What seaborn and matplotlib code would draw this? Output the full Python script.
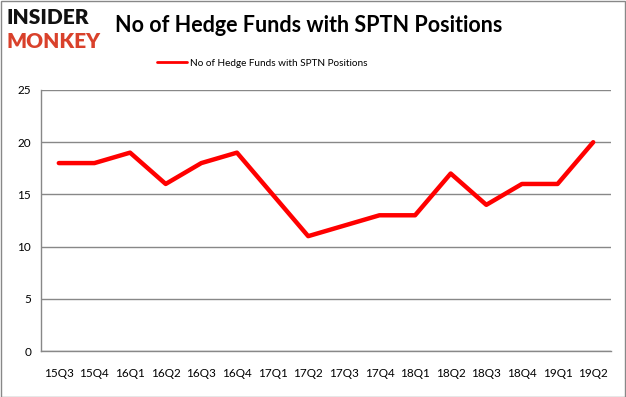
import matplotlib
matplotlib.use("Agg")
import matplotlib.pyplot as plt
import seaborn as sns
import pandas as pd
from matplotlib.patches import Rectangle

quarters = ["15Q3", "15Q4", "16Q1", "16Q2", "16Q3", "16Q4", "17Q1", "17Q2",
            "17Q3", "17Q4", "18Q1", "18Q2", "18Q3", "18Q4", "19Q1", "19Q2"]
funds = [18, 18, 19, 16, 18, 19, 15, 11, 12, 13, 13, 17, 14, 16, 16, 20]
series_name = "No of Hedge Funds with SPTN Positions"
yticks = [0, 5, 10, 15, 20, 25]

sns.set_style("white")
plt.rcParams['font.family'] = ['Lato', 'DejaVu Sans']
plt.rcParams['text.color'] = 'black'
plt.rcParams['xtick.color'] = 'black'
plt.rcParams['ytick.color'] = 'black'

df = pd.DataFrame({"quarter": quarters, "funds": funds, "pos": range(len(quarters))})

fig = plt.figure(figsize=(6.26, 3.97), dpi=100)
ax = fig.add_axes([41/626, 1-351/397, 570/626, 261/397])

sns.lineplot(data=df, x="pos", y="funds", ax=ax, color="#ff0000", linewidth=3.2,
             label=series_name, legend=False)

ax.set_xlim(-0.5, len(quarters) - 0.5)
ax.set_ylim(0, 25)
ax.set_yticks(yticks)
ax.set_yticklabels([str(v) for v in yticks], fontsize=8.5)
ax.set_xticks(range(len(quarters)))
ax.set_xticklabels(quarters, fontsize=8.5)
ax.tick_params(axis='x', length=0, pad=12, colors='black')
ax.set_xticks([i - 0.5 for i in range(len(quarters) + 1)], minor=True)
ax.tick_params(axis='x', which='minor', length=4, color="#888888", direction='out')
ax.tick_params(axis='y', length=4, color="#888888", labelcolor='black', direction='out', pad=3)
ax.yaxis.grid(True, color="#888888", linewidth=1)
ax.set_axisbelow(True)
for s in ["top", "right"]:
    ax.spines[s].set_visible(False)
for s in ["left", "bottom"]:
    ax.spines[s].set_color("#888888")
    ax.spines[s].set_linewidth(1)
ax.set_xlabel("")
ax.set_ylabel("")

# legend
leg = fig.legend(handles=ax.get_lines()[:1], labels=[series_name],
                 loc="center", bbox_to_anchor=(262/626, 1-63/397), frameon=False,
                 fontsize=7.2, handlelength=3.0, handletextpad=0.25)
for l in leg.get_lines():
    l.set_linewidth(2)

# title
fig.text(115/626, 1-26/397, "No of Hedge Funds with SPTN Positions", fontsize=15.5,
         fontweight="bold", va="center", ha="left", color="black")

# logo
fig.text(6/626, 1-18/397, "INSIDER", fontsize=15, fontweight="heavy", color="#111111",
         va="center", ha="left")
fig.text(6/626, 1-41/397, "MONKEY", fontsize=15, fontweight="heavy", color="#d9412b",
         va="center", ha="left")

# border
fig.patches.append(Rectangle((0.5/626, 0.5/397), 1-1.5/626, 1-1.5/397, transform=fig.transFigure,
                             fill=False, edgecolor="#888888", linewidth=1))

fig.savefig("out.png", dpi=100)
